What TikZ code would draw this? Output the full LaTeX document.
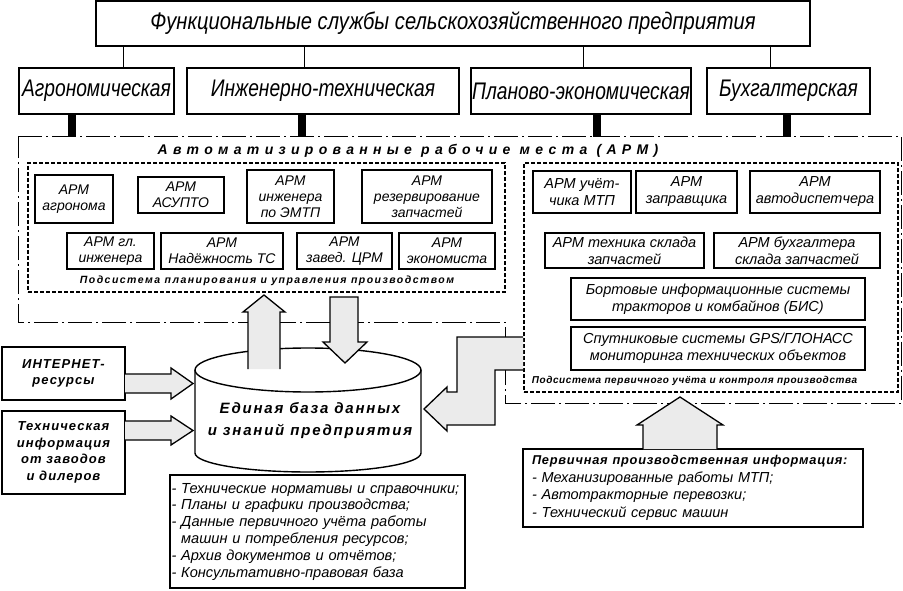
\documentclass[tikz,border=0pt]{standalone}
\usepackage{fontspec}
\setmainfont{Liberation Sans}
\newfontfamily\gostfont[FakeStretch=0.8]{Liberation Sans}
\newfontfamily\gostwide[FakeStretch=0.84]{Liberation Sans}
\newfontfamily\wideA[LetterSpace=38]{Liberation Sans}
\newfontfamily\wideB[LetterSpace=12]{Liberation Sans}
\newfontfamily\wideC[LetterSpace=6]{Liberation Sans}
\newfontfamily\wideD[LetterSpace=14]{Liberation Sans}
\newfontfamily\wideE[LetterSpace=8]{Liberation Sans}
\definecolor{arrowfill}{gray}{0.92}
\begin{document}
\begin{tikzpicture}[x=1pt,y=-1pt,
  gbox/.style={draw, line width=1.3pt, fill=white, inner sep=0pt, align=center, font=\gostfont\itshape\fontsize{24}{26}\selectfont},
  arm/.style={draw, line width=1.7pt, fill=white, inner sep=0pt, align=center, font=\itshape\fontsize{14}{16}\selectfont},
  armr/.style={arm, font=\itshape\fontsize{14.5}{17}\selectfont},
  frameline/.style={line width=1pt, dash pattern=on 24pt off 4pt on 2pt off 4pt},
  subsys/.style={draw, line width=1.1pt, dash pattern=on 4pt off 2pt, inner sep=0pt},
  bar/.style={line width=8pt},
  thinline/.style={line width=1pt},
  barrow/.style={line width=1.3pt, line join=miter},
  inbox/.style={draw, line width=1.7pt, fill=white, inner sep=0pt, align=center, font=\wideE\bfseries\itshape\fontsize{13}{16.5}\selectfont},
  listbox/.style={draw, line width=1.7pt, fill=white, inner sep=0pt, align=left},
  subtitle/.style={inner sep=0pt, font=\wideD\bfseries\itshape\fontsize{10.5}{12}\selectfont}
]
\useasboundingbox (0,0) rectangle (903,591);

% top level
\node[gbox, font=\gostwide\itshape\fontsize{24}{26}\selectfont, minimum width=714pt, minimum height=45pt] (title) at (453,23.5) {Функциональные службы сельскохозяйственного предприятия};
\node[gbox, minimum width=155pt, minimum height=46pt] (agro) at (96.5,91) {Агрономическая};
\node[gbox, minimum width=272pt, minimum height=46pt] (inzh) at (323,91) {Инженерно-техническая};
\node[gbox, minimum width=220pt, minimum height=46pt] (plan) at (581,91) {Планово-экономическая};
\node[gbox, minimum width=163pt, minimum height=46pt] (buh) at (788.5,91) {Бухгалтерская};

\coordinate (c1) at (123,0);
\coordinate (c2) at (304,0);
\coordinate (c3) at (583,0);
\coordinate (c4) at (770,0);
\draw[thinline] (title.south -| c1) -- (agro.north -| c1);
\draw[thinline] (title.south -| c2) -- (inzh.north -| c2);
\draw[thinline] (title.south -| c3) -- (plan.north -| c3);
\draw[thinline] (title.south -| c4) -- (buh.north -| c4);

% outer frame
\coordinate (f1) at (18,137);
\coordinate (f2) at (901.5,137);
\coordinate (f3) at (901.5,403);
\coordinate (f4) at (505,403);
\coordinate (f5) at (505,322);
\coordinate (f6) at (18,322);
\draw[frameline] (f1) -- (f2) -- (f3) -- (f4) -- (f5) -- (f6) -- cycle;

\coordinate (b1) at (72,137);
\coordinate (b2) at (302,137);
\coordinate (b3) at (597,137);
\coordinate (b4) at (787,137);
\draw[bar] (agro.south -| b1) -- (b1);
\draw[bar] (inzh.south -| b2) -- (b2);
\draw[bar] (plan.south -| b3) -- (b3);
\draw[bar] (buh.south -| b4) -- (b4);

\node[inner sep=0pt, font=\wideA\bfseries\itshape\fontsize{14}{16}\selectfont] (armtitle) at (408,151) {Автоматизированные рабочие места (АРМ)};

% left subsystem
\node[subsys, minimum width=477pt, minimum height=129pt] (subL) at (266.5,227.5) {};
\node[arm, minimum width=78pt, minimum height=48pt] (a1) at (74,199) {АРМ\\агронома};
\node[arm, minimum width=86pt, minimum height=36pt] (a2) at (181,195) {АРМ\\АСУПТО};
\node[arm, minimum width=87pt, minimum height=53pt] (a3) at (290.5,196.5) {АРМ\\инженера\\по ЭМТП};
\node[arm, minimum width=130pt, minimum height=53pt] (a4) at (427,196.5) {АРМ\\резервирование\\запчастей};
\node[arm, minimum width=87pt, minimum height=36pt] (a5) at (110.5,251) {АРМ гл.\\инженера};
\node[arm, minimum width=122pt, minimum height=36pt] (a6) at (222,251) {АРМ\\Надёжность ТС};
\node[arm, minimum width=95pt, minimum height=36pt] (a7) at (344.5,251) {АРМ\\завед. ЦРМ};
\node[arm, minimum width=96pt, minimum height=36pt] (a8) at (447,251) {АРМ\\экономиста};
\node[subtitle] (subLt) at (267,281) {Подсистема планирования и управления производством};

% right subsystem
\node[subsys, minimum width=374pt, minimum height=229pt] (subR) at (711,277.5) {};
\node[armr, minimum width=98pt, minimum height=42pt] (r1) at (582,192) {АРМ учёт-\\чика МТП};
\node[armr, minimum width=101pt, minimum height=42pt] (r2) at (686.5,192) {АРМ\\заправщика};
\node[armr, minimum width=130pt, minimum height=42pt] (r3) at (815,192) {АРМ\\автодиспетчера};
\node[armr, minimum width=159pt, minimum height=35pt] (r4) at (624.5,250.5) {АРМ техника склада\\запчастей};
\node[armr, minimum width=166pt, minimum height=35pt] (r5) at (797,250.5) {АРМ бухгалтера\\склада запчастей};
\node[armr, minimum width=294pt, minimum height=42pt] (r6) at (718,299) {Бортовые информационные системы\\тракторов и комбайнов (БИС)};
\node[armr, minimum width=294pt, minimum height=43pt] (r7) at (718,348.5) {Спутниковые системы GPS/ГЛОНАСС\\мониторинга технических объектов};
\node[subtitle, font=\wideC\bfseries\itshape\fontsize{10}{11}\selectfont] (subRt) at (694.5,381) {Подсистема первичного учёта и контроля производства};

% inputs
\node[inbox, minimum width=123pt, minimum height=53pt] (inet) at (63.5,373.5) {ИНТЕРНЕТ-\\ресурсы};
\node[inbox, minimum width=123pt, minimum height=83pt] (tech) at (63.5,452.5) {Техническая\\информация\\от заводов\\и дилеров};

% database cylinder
\coordinate (dbc) at (308,370);
\path[fill=white] (195,370) -- (195,453) arc[start angle=180, end angle=360, x radius=113pt, y radius=19pt] -- (421,370) -- cycle;
\draw[line width=1.4pt] (195,370) -- (195,453) arc[start angle=180, end angle=360, x radius=113pt, y radius=19pt] -- (421,370);
\draw[line width=1.4pt, fill=white] (dbc) ellipse[x radius=113pt, y radius=22pt];
\node[inner sep=0pt, align=center, font=\wideB\bfseries\itshape\fontsize{15}{22}\selectfont] (db) at (310,421) {Единая база данных\\и знаний предприятия};

% list box
\node[listbox, minimum width=295pt, minimum height=113pt, text width=292pt, font=\itshape\fontsize{14.6}{16.8}\selectfont] (lst) at (317.5,531.5) {- Технические нормативы и справочники;\\- Планы и графики производства;\\- Данные первичного учёта работы\\\phantom{- }машин и потребления ресурсов;\\- Архив документов и отчётов;\\- Консультативно-правовая база};

% primary info box
\node[listbox, minimum width=340pt, minimum height=78pt, text width=322pt, font=\itshape\fontsize{14.5}{17.5}\selectfont] (prim) at (693,488) {{\wideC\bfseries\fontsize{12.8}{17.5}\selectfont Первичная производственная информация:}\\- Механизированные работы МТП;\\- Автотракторные перевозки;\\- Технический сервис машин};

% block arrows
% up arrow from DB
\fill[arrowfill] (248,369) -- (248,312) -- (243,312) -- (264,295) -- (285,312) -- (280,312) -- (280,369) -- cycle;
\draw[barrow] (248,369) -- (248,312) -- (243,312) -- (264,295) -- (285,312) -- (280,312) -- (280,369);
% down arrow into DB
\draw[barrow, fill=arrowfill] (330,297) -- (358,297) -- (358,342) -- (367,342) -- (345,363) -- (323,342) -- (330,342) -- cycle;
% internet arrow
\fill[arrowfill] (125,374) -- (171,374) -- (171,368) -- (193,383.5) -- (171,399) -- (171,393) -- (125,393) -- cycle;
\draw[barrow] (125,374) -- (171,374) -- (171,368) -- (193,383.5) -- (171,399) -- (171,393) -- (125,393);
% tech info arrow
\fill[arrowfill] (125,421) -- (171,421) -- (171,416) -- (193,430.5) -- (171,445) -- (171,440) -- (125,440) -- cycle;
\draw[barrow] (125,421) -- (171,421) -- (171,416) -- (193,430.5) -- (171,445) -- (171,440) -- (125,440);
% right L arrow
\fill[arrowfill] (523,337) -- (457,337) -- (457,392) -- (447,392) -- (447,387) -- (424,409) -- (447,431) -- (447,425) -- (495,425) -- (495,370) -- (523,370) -- cycle;
\draw[barrow] (523,337) -- (457,337) -- (457,392) -- (447,392) -- (447,387) -- (424,409) -- (447,431) -- (447,425) -- (495,425) -- (495,370) -- (523,370);
% house arrow from primary info
\fill[arrowfill] (643,449) -- (643,425) -- (637,425) -- (680,397) -- (723,425) -- (717,425) -- (717,449) -- cycle;
\draw[barrow] (643,449) -- (643,425) -- (637,425) -- (680,397) -- (723,425) -- (717,425) -- (717,449);
\end{tikzpicture}
\end{document}
